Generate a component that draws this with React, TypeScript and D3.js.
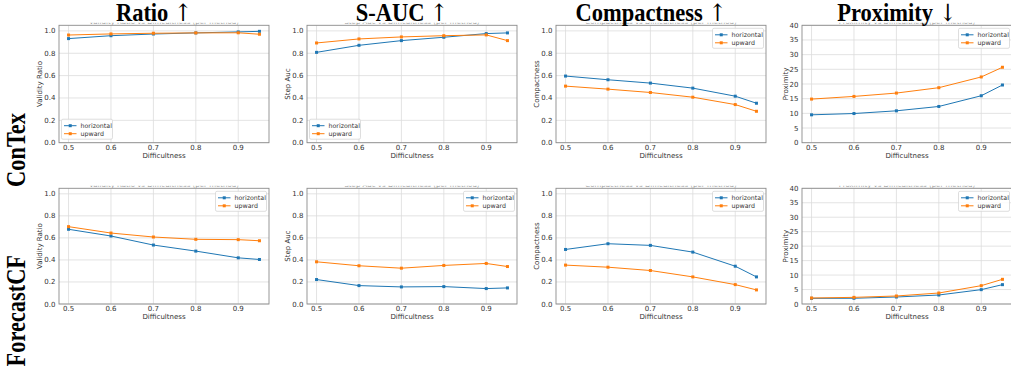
import React from 'react';
import * as d3 from 'd3';

// ---------- data ----------
const difficulties = [0.5, 0.6, 0.7, 0.8, 0.9, 0.95];
const xTicks = [0.5, 0.6, 0.7, 0.8, 0.9];
const seriesNames = ['horizontal', 'upward'];
const metricTitles = ['Ratio', 'S-AUC', 'Compactness', 'Proximity'];
const metricArrows = ['↑', '↑', '↑', '↓'];
const metricYLabels = ['Validity Ratio', 'Step Auc', 'Compactness', 'Proximity'];
const metricSubtitles = [
  'Validity Ratio vs Difficultness (per method)',
  'Step Auc vs Difficultness (per method)',
  'Compactness vs Difficultness (per method)',
  'Proximity vs Difficultness (per method)',
];
const datasetNames = ['ConTex', 'ForecastCF'];
const unitTicks = [0, 0.2, 0.4, 0.6, 0.8, 1.0];
const proximityTicks = [0, 5, 10, 15, 20, 25, 30, 35, 40];

const contexRatioHorizontal = [0.931, 0.957, 0.972, 0.982, 0.991, 0.996];
const contexRatioUpward = [0.963, 0.973, 0.979, 0.982, 0.983, 0.970];
const contexSaucHorizontal = [0.808, 0.871, 0.913, 0.943, 0.976, 0.982];
const contexSaucUpward = [0.892, 0.928, 0.946, 0.957, 0.964, 0.913];
const contexCompHorizontal = [0.596, 0.563, 0.533, 0.488, 0.416, 0.353];
const contexCompUpward = [0.506, 0.479, 0.449, 0.407, 0.341, 0.281];
const contexProxHorizontal = [9.5, 9.94, 10.86, 12.34, 16.0, 19.66];
const contexProxUpward = [14.86, 15.77, 16.91, 18.74, 22.4, 25.7];

const forecastRatioHorizontal = [0.678, 0.617, 0.535, 0.48, 0.419, 0.404];
const forecastRatioUpward = [0.702, 0.644, 0.608, 0.587, 0.584, 0.574];
const forecastSaucHorizontal = [0.222, 0.167, 0.155, 0.158, 0.14, 0.146];
const forecastSaucUpward = [0.383, 0.347, 0.325, 0.35, 0.368, 0.34];
const forecastCompHorizontal = [0.495, 0.547, 0.532, 0.471, 0.343, 0.246];
const forecastCompUpward = [0.353, 0.334, 0.304, 0.246, 0.176, 0.128];
const forecastProxHorizontal = [1.96, 1.98, 2.42, 3.11, 4.96, 6.69];
const forecastProxUpward = [2.07, 2.3, 2.77, 3.8, 6.34, 8.53];

const panelSeries = [
  [
    [contexRatioHorizontal, contexRatioUpward],
    [contexSaucHorizontal, contexSaucUpward],
    [contexCompHorizontal, contexCompUpward],
    [contexProxHorizontal, contexProxUpward],
  ],
  [
    [forecastRatioHorizontal, forecastRatioUpward],
    [forecastSaucHorizontal, forecastSaucUpward],
    [forecastCompHorizontal, forecastCompUpward],
    [forecastProxHorizontal, forecastProxUpward],
  ],
];
// legend placement per row/column: 'll' lower-left, 'ur' upper-right
const legendPlacement = [
  ['ll', 'll', 'ur', 'ur'],
  ['ur', 'ur', 'ur', 'ur'],
];

// ---------- layout ----------
const W = 1011;
const H = 372;
const colLeft = [59, 307, 556, 802];
const panelW = 210;
const rowTop = [25.3, 188.3];
const rowBottom = [142.7, 304];
const colors = ['#1f77b4', '#ff7f0e'];
const tickFont = 7;
const sans = 'DejaVu Sans, sans-serif';
const serif = 'Liberation Serif, Times New Roman, serif';

function Panel({ row, col }: { row: number; col: number }) {
  const isProx = col === 3;
  const x0 = colLeft[col];
  const x1 = x0 + panelW;
  const y0 = rowBottom[row];
  const y1 = rowTop[row];
  const x = d3.scaleLinear().domain([0.4775, 0.9725]).range([x0, x1]);
  const y = d3
    .scaleLinear()
    .domain(isProx ? [0, 40] : [0, 1.05])
    .range([y0, y1]);
  const yTicks = isProx ? proximityTicks : unitTicks;
  const yFmt = isProx ? d3.format('d') : d3.format('.1f');
  const line = d3
    .line<number>()
    .x((_, i) => x(difficulties[i]))
    .y((d) => y(d));
  const series = panelSeries[row][col];
  const clipId = `sub-${row}-${col}`;

  // legend
  const lw = 51;
  const lh = 20;
  const place = legendPlacement[row][col];
  const lx = place === 'll' ? x0 + 2.5 : x1 - lw - 2.5;
  const ly = place === 'll' ? y0 - lh - 3.5 : y1 + 3;

  const ylabelOffset = isProx ? 14 : 17.5;
  const midY = (y0 + y1) / 2;

  return (
    <g>
      {/* faint clipped sub-title */}
      <clipPath id={clipId}>
        <rect x={x0} y={y1 - 2.6} width={panelW} height={2.6} />
      </clipPath>
      <text
        x={(x0 + x1) / 2}
        y={y1 - 1}
        textAnchor="middle"
        fontFamily={sans}
        fontSize={7}
        fill="#9a9a9a"
        clipPath={`url(#${clipId})`}
      >
        {metricSubtitles[col]}
      </text>
      <rect x={x0} y={y1} width={panelW} height={y0 - y1} fill="#fff" />
      {/* grid */}
      {xTicks.map((t) => (
        <line key={'gx' + t} x1={x(t)} x2={x(t)} y1={y0} y2={y1} stroke="#dcdcdc" strokeWidth={0.8} />
      ))}
      {yTicks.map((t) => (
        <line key={'gy' + t} x1={x0} x2={x1} y1={y(t)} y2={y(t)} stroke="#dcdcdc" strokeWidth={0.8} />
      ))}
      {/* series */}
      {series.map((vals, si) => (
        <g key={si}>
          <path d={line(vals) || ''} fill="none" stroke={colors[si]} strokeWidth={1} />
          {vals.map((v, i) => (
            <rect
              key={i}
              x={x(difficulties[i]) - 1.5}
              y={y(v) - 1.5}
              width={3}
              height={3}
              fill={colors[si]}
            />
          ))}
        </g>
      ))}
      {/* frame */}
      <rect x={x0} y={y1} width={panelW} height={y0 - y1} fill="none" stroke="#8c8c8c" strokeWidth={0.9} />
      {/* tick labels */}
      {xTicks.map((t) => (
        <text
          key={'tx' + t}
          x={x(t)}
          y={y0 + 7.2}
          textAnchor="middle"
          fontFamily={sans}
          fontSize={tickFont}
          fill="#333"
        >
          {d3.format('.1f')(t)}
        </text>
      ))}
      {yTicks.map((t) => (
        <text
          key={'ty' + t}
          x={x0 - 3.5}
          y={y(t) + 2.5}
          textAnchor="end"
          fontFamily={sans}
          fontSize={tickFont}
          fill="#333"
        >
          {yFmt(t)}
        </text>
      ))}
      <text
        x={(x0 + x1) / 2}
        y={y0 + 14.8}
        textAnchor="middle"
        fontFamily={sans}
        fontSize={tickFont}
        fill="#333"
      >
        Difficultness
      </text>
      <text
        transform={`translate(${x0 - ylabelOffset},${midY}) rotate(-90)`}
        textAnchor="middle"
        fontFamily={sans}
        fontSize={tickFont}
        fill="#333"
      >
        {metricYLabels[col]}
      </text>
      {/* legend */}
      <rect x={lx} y={ly} width={lw} height={lh} rx={1.5} fill="#fff" fillOpacity={0.85} stroke="#d0d0d0" strokeWidth={0.7} />
      {seriesNames.map((name, si) => {
        const cy = ly + 6.5 + si * 8;
        return (
          <g key={name}>
            <line x1={lx + 2.5} x2={lx + 15} y1={cy} y2={cy} stroke={colors[si]} strokeWidth={1} />
            <rect x={lx + 8.75 - 1.5} y={cy - 1.5} width={3} height={3} fill={colors[si]} />
            <text x={lx + 19} y={cy + 2.2} fontFamily={sans} fontSize={6.3} fill="#333">
              {name}
            </text>
          </g>
        );
      })}
    </g>
  );
}

export default function App() {
  const titleCenters = colLeft.map((l) => l + panelW / 2 - 10);
  return (
    <svg width={W} height={H} viewBox={`0 0 ${W} ${H}`} style={{ display: 'block', position: 'absolute', left: 0, top: 0, background: '#fff' }}>
      <rect x={0} y={0} width={W} height={H} fill="#fff" />
      {datasetNames.map((_, r) =>
        metricTitles.map((__, c) => <Panel key={`${r}-${c}`} row={r} col={c} />)
      )}
      {metricTitles.map((t, c) => (
        <text
          key={t}
          transform={`translate(${titleCenters[c]},21.3) scale(0.9,1)`}
          textAnchor="middle"
          fontFamily={serif}
          fontWeight="bold"
          fontSize={25}
          fill="#000"
        >
          {t}{' '}
          <tspan fontWeight="normal" fontFamily="DejaVu Serif, serif" fontSize={24}>
            {metricArrows[c]}
          </tspan>
        </text>
      ))}
      <text
        transform={`translate(25,150) rotate(-90) scale(0.8,1)`}
        textAnchor="middle"
        fontFamily={serif}
        fontWeight="bold"
        fontSize={28}
        fill="#000"
      >
        {datasetNames[0]}
      </text>
      <text
        transform={`translate(25,255) rotate(-90) scale(0.8,1)`}
        textAnchor="end"
        fontFamily={serif}
        fontWeight="bold"
        fontSize={28}
        fill="#000"
      >
        {datasetNames[1]}
      </text>
    </svg>
  );
}
